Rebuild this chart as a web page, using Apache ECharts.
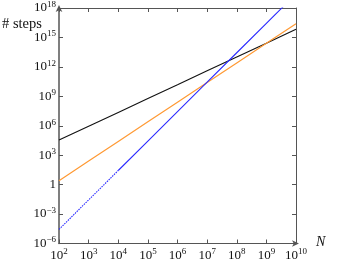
<!DOCTYPE html>
<html><head><meta charset="utf-8">
<script src="https://cdn.jsdelivr.net/npm/echarts@6/dist/echarts.min.js"></script>
<style>html,body{margin:0;padding:0;background:#fff}#c{width:355px;height:264px}</style>
</head><body><div id="c"></div>
<script>
var N = [1e2, 1e3, 1e4, 1e5, 1e6, 1e7, 1e8, 1e9, 1e10];
var blackSteps = [3.5e4, 9.1e5, 2.3e7, 6.0e8, 1.5e10, 4.0e11, 1.0e13, 2.6e14, 6.8e15];
var orangeSteps = [2.5, 2.5e2, 2.5e4, 2.5e6, 2.5e8, 2.5e10, 2.5e12, 2.5e14, 2.5e16];
var blueDottedN = [1e2, 1e3, 1e4];
var blueDotted = [2.75e-5, 2.75e-2, 2.75e1];
var blueSolidN = [1e4, 1e5, 1e6, 1e7, 1e8, 1e9, 1e10];
var blueSolid = [2.75e1, 2.75e4, 2.75e7, 2.75e10, 2.75e13, 2.75e16, 2.75e19];

function zip(a, b) { return a.map(function (v, i) { return [v, b[i]]; }); }
var FONT = '"Liberation Serif","DejaVu Serif",serif';
function fmt(v) {
  var e = Math.round(Math.log10(v));
  if (e === 0) return '{b|1}';
  return '{b|10}{s|' + (e < 0 ? '\u2212' + (-e) : e) + '}';
}
var rich = {
  b: { fontFamily: FONT, fontSize: 13, color: '#111', lineHeight: 16 },
  s: { fontFamily: FONT, fontSize: 9, color: '#111', lineHeight: 16, verticalAlign: 'top', padding: [0, 0, 7, 0] }
};
var axisCol = '#555';
var chart = echarts.init(document.getElementById('c'), null, { renderer: 'canvas' });
chart.setOption({
  animation: false,
  grid: { left: 59, right: 59, top: 8, bottom: 20.5 },
  xAxis: [{
    type: 'log', logBase: 10, min: 1e2, max: 1e10, interval: 1, position: 'bottom',
    axisLine: { lineStyle: { color: axisCol, width: 1.2 }, symbol: ['none', 'arrow'], symbolSize: [5, 7], symbolOffset: [0, 3] },
    axisTick: { inside: true, length: 4, lineStyle: { color: axisCol } },
    axisLabel: { formatter: fmt, rich: rich, margin: 4 },
    splitLine: { show: false }, minorTick: { show: false }
  }, {
    type: 'log', logBase: 10, min: 1e2, max: 1e10, interval: 1, position: 'top',
    axisLine: { lineStyle: { color: axisCol, width: 1 } },
    axisTick: { inside: true, length: 4, lineStyle: { color: axisCol } },
    axisLabel: { show: false }, splitLine: { show: false }
  }],
  yAxis: [{
    type: 'log', logBase: 10, min: 1e-6, max: 1e18, interval: 3, position: 'left',
    axisLine: { lineStyle: { color: axisCol, width: 1.5 }, symbol: ['none', 'arrow'], symbolSize: [5, 7], symbolOffset: [0, 3] },
    axisTick: { inside: true, length: 4, lineStyle: { color: axisCol } },
    axisLabel: { formatter: fmt, rich: rich, margin: 3 },
    splitLine: { show: false }
  }, {
    type: 'log', logBase: 10, min: 1e-6, max: 1e18, interval: 3, position: 'right',
    axisLine: { show: true, lineStyle: { color: axisCol, width: 1 } },
    axisTick: { inside: true, length: 4, lineStyle: { color: axisCol } },
    axisLabel: { show: false }, splitLine: { show: false }
  }],
  graphic: [
    { type: 'text', left: 2, top: 17, style: { text: '# steps', font: '14.5px ' + FONT, fill: '#111' } },
    { type: 'text', left: 316, top: 235, style: { text: 'N', font: 'italic 14px ' + FONT, fill: '#111' } }
  ],
  series: [
    { type: 'line', data: zip(N, blackSteps), showSymbol: false, lineStyle: { color: '#111', width: 1.1 }, clip: true },
    { type: 'line', data: zip(N, orangeSteps), showSymbol: false, lineStyle: { color: '#ff9933', width: 1.2 }, clip: true },
    { type: 'line', data: zip(blueDottedN, blueDotted), showSymbol: false, lineStyle: { color: '#2a2aff', width: 1.1, type: [1.5, 1] }, clip: true },
    { type: 'line', data: zip(blueSolidN, blueSolid), showSymbol: false, lineStyle: { color: '#2a2aff', width: 1.1 }, clip: true }
  ]
});
</script></body></html>
